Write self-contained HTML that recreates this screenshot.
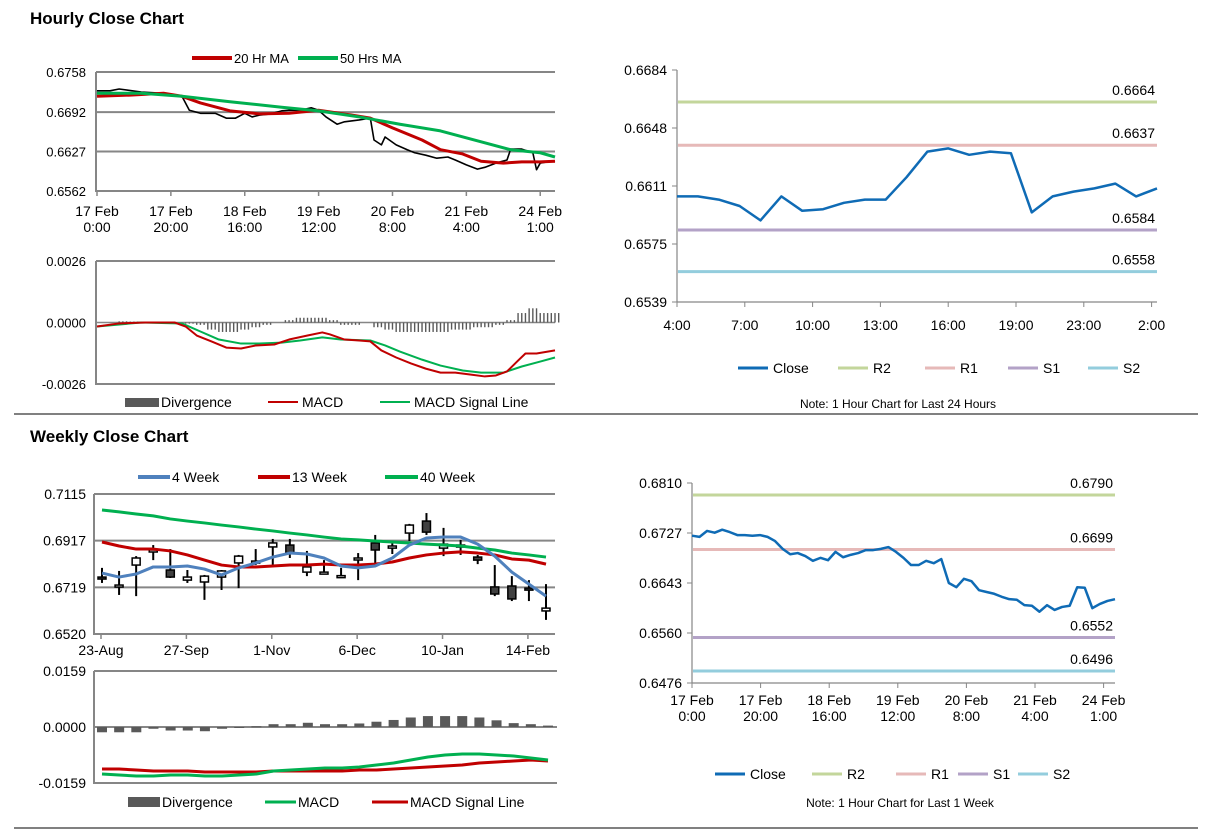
<!DOCTYPE html>
<html><head><meta charset="utf-8"><style>
html,body{margin:0;padding:0;background:#fff;width:1212px;height:834px;overflow:hidden}
svg text{font-family:"Liberation Sans",Arial,sans-serif;fill:#000}
</style></head><body>
<svg id="s" width="1212" height="834" viewBox="0 0 1212 834" xmlns="http://www.w3.org/2000/svg">
<text x="30" y="24" font-size="17" font-weight="bold">Hourly Close Chart</text>
<line x1="14" y1="414" x2="1198" y2="414" stroke="#808080" stroke-width="2"/>
<text x="30" y="442" font-size="17" font-weight="bold">Weekly Close Chart</text>
<line x1="14" y1="828" x2="1198" y2="828" stroke="#808080" stroke-width="2"/>
</svg>
<script>
// ---------- DATA ----------
// Hourly chart (hours since 17 Feb 0:00)
const hcHours=[0,3.5,6,12,18,23,25,28,32,35,37.5,40,42,44,47,50,52,55,58,60,62,65,67,71,74,75,77,78,81,84,86,89,92,95,97,100,103,105,108,111,112,115,118,119,120,123,124];
const hcClose=[0.6727,0.6727,0.6730,0.6725,0.6723,0.6718,0.6695,0.6690,0.6690,0.6682,0.6682,0.6690,0.6684,0.6687,0.6689,0.6694,0.6695,0.6695,0.6699,0.6695,0.6684,0.6672,0.6676,0.6679,0.6682,0.6646,0.6638,0.6651,0.6638,0.6630,0.6625,0.6621,0.6616,0.6618,0.6613,0.6605,0.6598,0.6601,0.6608,0.6613,0.6631,0.6631,0.6625,0.6597,0.6608,0.6611,0.6610];
const ma20Hours=[0,9,18,23,28,36,44,52,60,69,74,80,88,93,99,104,110,115,120,124];
const ma20=[0.6718,0.6720,0.6723,0.6718,0.6707,0.6694,0.6689,0.6690,0.6695,0.6687,0.6682,0.6666,0.6646,0.6630,0.6623,0.6611,0.6608,0.6610,0.6610,0.6611];
const ma50Hours=[0,12,23,36,50,60,71,82,93,104,112,120,124];
const ma50=[0.6723,0.6723,0.6718,0.6709,0.6700,0.6694,0.6684,0.6672,0.6661,0.6643,0.6630,0.6625,0.6618];
const hTicks=[0.6758,0.6692,0.6627,0.6562];
const hTickLabels=["0.6758","0.6692","0.6627","0.6562"];
const hXTicks=[0,20,40,60,80,100,120];
const hXLabels=[["17 Feb","0:00"],["17 Feb","20:00"],["18 Feb","16:00"],["19 Feb","12:00"],["20 Feb","8:00"],["21 Feb","4:00"],["24 Feb","1:00"]];
// hourly MACD
const macdHours=[0,6,13,21,24,27,31,35,39,43,48,52,57,61,63,67,71,74,77,81,85,89,93,97,101,105,108,111,114,116,119,122,124];
const macdH=[-0.00017,-0.00004,0,0,-0.00017,-0.00055,-0.0008,-0.00106,-0.0011,-0.00097,-0.00093,-0.00072,-0.00055,-0.00042,-0.0005,-0.00072,-0.00076,-0.0008,-0.00118,-0.00148,-0.00173,-0.00195,-0.00212,-0.00212,-0.0022,-0.00228,-0.00224,-0.00207,-0.00161,-0.00131,-0.00131,-0.00123,-0.00118];
const sigHours=[0,12,23,28,33,39,44,50,55,61,66,74,78,82,88,93,99,104,110,115,120,124];
const sigH=[-0.00017,0,-0.00004,-0.00038,-0.00072,-0.00089,-0.00089,-0.00085,-0.00076,-0.00063,-0.00072,-0.00076,-0.00097,-0.00123,-0.00157,-0.00182,-0.00203,-0.00212,-0.00212,-0.00186,-0.00165,-0.00148];
const divH=[0,0,0.00005,0.00004,0.00002,0,0,-0.00002,-0.00005,-0.0001,-0.0003,-0.0004,-0.0004,-0.0003,-0.0002,-0.0001,0,0.0001,0.0002,0.0002,0.0002,0.0001,-0.0001,-0.0001,0,-0.0002,-0.0003,-0.0004,-0.0004,-0.0004,-0.0004,-0.0004,-0.0003,-0.0003,-0.0002,-0.0002,-0.0001,0.0001,0.0004,0.0006,0.0004,0.0004];
// 24h chart
const dayLabels=["4:00","7:00","10:00","13:00","16:00","19:00","23:00","2:00"];
const dayClose=[0.6605,0.6605,0.6603,0.6599,0.6590,0.6605,0.6596,0.6597,0.6601,0.6603,0.6603,0.6617,0.6633,0.6635,0.6631,0.6633,0.6632,0.6595,0.6605,0.6608,0.6610,0.6613,0.6605,0.6610];
const dayLevels=[0.6664,0.6637,0.6584,0.6558];
const dayTicks=["0.6684","0.6648","0.6611","0.6575","0.6539"];
// weekly candles
const wkLabels=["23-Aug","27-Sep","1-Nov","6-Dec","10-Jan","14-Feb"];
const wOpen=[0.6762,0.6728,0.6813,0.6869,0.6792,0.6749,0.6741,0.6762,0.6822,0.6826,0.6890,0.6898,0.6783,0.6779,0.6766,0.6839,0.6907,0.6885,0.6949,0.7000,0.6885,0.6898,0.6847,0.6720,0.6724,0.6715,0.6618];
const wHigh=[0.6801,0.6788,0.6851,0.6898,0.6881,0.6792,0.6771,0.6792,0.6856,0.6881,0.6924,0.6924,0.6873,0.6834,0.6801,0.6864,0.6941,0.6911,0.6988,0.7034,0.6971,0.6920,0.6856,0.6813,0.6766,0.6749,0.6732];
const wLow=[0.6737,0.6686,0.6681,0.6834,0.6758,0.6737,0.6665,0.6707,0.6715,0.6813,0.6813,0.6843,0.6766,0.6775,0.6758,0.6749,0.6805,0.6860,0.6915,0.6941,0.6851,0.6856,0.6817,0.6681,0.6660,0.6660,0.6580];
const wClose=[0.6758,0.6728,0.6843,0.6877,0.6762,0.6762,0.6766,0.6788,0.6851,0.6830,0.6907,0.6864,0.6805,0.6783,0.6768,0.6843,0.6877,0.6894,0.6983,0.6953,0.6902,0.6898,0.6834,0.6690,0.6669,0.6711,0.6630];
const ma4=[0.6779,0.6762,0.6775,0.6805,0.6805,0.6809,0.6796,0.6771,0.6801,0.6822,0.6847,0.6864,0.6860,0.6843,0.6809,0.6801,0.6809,0.6843,0.6898,0.6928,0.6932,0.6932,0.6902,0.6851,0.6783,0.6732,0.6681];
const ma13=[0.6911,0.6894,0.6881,0.6881,0.6873,0.6856,0.6834,0.6813,0.6805,0.6805,0.6809,0.6813,0.6813,0.6817,0.6813,0.6813,0.6817,0.6826,0.6843,0.6856,0.6864,0.6869,0.6864,0.6856,0.6839,0.6834,0.6817];
const ma40=[0.7047,0.7039,0.7030,0.7022,0.7009,0.7000,0.6992,0.6983,0.6975,0.6966,0.6958,0.6949,0.6941,0.6932,0.6924,0.6920,0.6915,0.6911,0.6907,0.6902,0.6898,0.6894,0.6885,0.6877,0.6864,0.6856,0.6847];
const wTicks=["0.7115","0.6917","0.6719","0.6520"];
// weekly MACD
const wMacd=[-0.01335,-0.01363,-0.01392,-0.01392,-0.01363,-0.01363,-0.01392,-0.01392,-0.01363,-0.01335,-0.0125,-0.01221,-0.01193,-0.01164,-0.01164,-0.01136,-0.01079,-0.01022,-0.00937,-0.00852,-0.00795,-0.00767,-0.00767,-0.00795,-0.00824,-0.0088,-0.00937];
const wSig=[-0.01193,-0.01193,-0.01221,-0.0125,-0.0125,-0.0125,-0.01278,-0.01278,-0.01278,-0.01278,-0.0125,-0.0125,-0.0125,-0.0125,-0.0125,-0.01221,-0.01221,-0.01193,-0.01164,-0.01136,-0.01108,-0.01079,-0.01022,-0.00994,-0.00966,-0.00937,-0.00966];
const wDiv=[-0.0015,-0.0015,-0.0015,-0.0005,-0.001,-0.001,-0.0012,-0.0005,-0.0001,0.0002,0.0008,0.0008,0.0012,0.0008,0.0008,0.001,0.0015,0.002,0.0027,0.0031,0.0031,0.0031,0.0027,0.0019,0.0011,0.0008,0.0004];
// weekly hourly close chart
const wkClose=[0.6722,0.6720,0.6730,0.6727,0.6732,0.6728,0.6723,0.6723,0.6722,0.6723,0.6720,0.6713,0.6700,0.6691,0.6693,0.6688,0.6680,0.6685,0.6681,0.6695,0.6686,0.6690,0.6693,0.6698,0.6698,0.6700,0.6703,0.6695,0.6685,0.6673,0.6673,0.6680,0.6676,0.6683,0.6643,0.6636,0.6650,0.6646,0.6631,0.6628,0.6625,0.6620,0.6616,0.6615,0.6606,0.6605,0.6595,0.6606,0.6598,0.6603,0.6605,0.6636,0.6635,0.6601,0.6608,0.6613,0.6616];
const wkLevels=[0.6790,0.6699,0.6552,0.6496];
const wkTicks=["0.6810","0.6727","0.6643","0.6560","0.6476"];
const wkXLabels=[["17 Feb","0:00"],["17 Feb","20:00"],["18 Feb","16:00"],["19 Feb","12:00"],["20 Feb","8:00"],["21 Feb","4:00"],["24 Feb","1:00"]];
const levelNames=["R2","R1","S1","S2"];

// ---------- DRAWING ----------
const S=document.getElementById('s');const NS='http://www.w3.org/2000/svg';
function el(t,a,p){const e=document.createElementNS(NS,t);for(const k in a)e.setAttribute(k,a[k]);(p||S).appendChild(e);return e;}
function txt(x,y,s,a,size,anchor){const t=el('text',{x:x,y:y,'font-size':size||13,'text-anchor':anchor||'start'});t.textContent=s;return t;}
function lin(a,b,c,d){return v=>c+(v-a)*(d-c)/(b-a);}
function poly(xs,ys,color,w){return el('polyline',{points:xs.map((x,i)=>x+','+ys[i]).join(' '),fill:'none',stroke:color,'stroke-width':w,'stroke-linejoin':'round'});}
const GR='#868686';
const RED='#c00000',GRN='#00b050',BLUE='#4f81bd',CL='#0f6bb5';
const LVC=['#c3d69b','#e6b9b8','#b3a2c7','#93cddd'];

// Hourly price chart
{
const X=lin(0,124,97,555),Y=lin(0.6562,0.6758,191,72);
hTicks.forEach((v,i)=>{let g=el('line',{x1:96,x2:555,y1:Y(v),y2:Y(v),stroke:GR,'stroke-width':2});


let t=txt(86,Y(v)+5,hTickLabels[i],0,13,'end');

});
el('line',{x1:96,x2:96,y1:72,y2:192,stroke:GR,'stroke-width':2});
hXTicks.forEach((h,i)=>{el('line',{x1:X(h),x2:X(h),y1:191,y2:196,stroke:GR,'stroke-width':1.5});
let t=txt(X(h),216,hXLabels[i][0],0,14,'middle');
txt(X(h),232,hXLabels[i][1],0,14,'middle');});
let c=poly(hcHours.map(X),hcClose.map(Y),'#000',1.6);


let r=poly(ma20Hours.map(X),ma20.map(Y),RED,3);


let g=poly(ma50Hours.map(X),ma50.map(Y),GRN,3);


el('line',{x1:192,x2:232,y1:58,y2:58,stroke:RED,'stroke-width':4});txt(234,63,'20 Hr MA',0,13);
el('line',{x1:298,x2:338,y1:58,y2:58,stroke:GRN,'stroke-width':4});txt(340,63,'50 Hrs MA',0,13);
}
// Hourly MACD
{
const X=lin(0,124,97,555),Y=lin(-0.0026,0.0026,384,261);
[[0.0026,'0.0026'],[0,'0.0000'],[-0.0026,'-0.0026']].forEach(([v,l])=>{el('line',{x1:96,x2:555,y1:Y(v),y2:Y(v),stroke:GR,'stroke-width':v==0?1.5:2});txt(86,Y(v)+5,l,0,13,'end');});
el('line',{x1:96,x2:96,y1:261,y2:385,stroke:GR,'stroke-width':2});
divH.forEach((v,i)=>{for(let k=0;k<3;k++){const b=el('rect',{x:X(i*3+k)-0.7,y:Math.min(Y(v),Y(0)),width:1.4,height:Math.abs(Y(v)-Y(0)),fill:'#595959'});

}});
let s=poly(sigHours.map(X),sigH.map(Y),GRN,2);
let m=poly(macdHours.map(X),macdH.map(Y),RED,2);
el('rect',{x:125,y:398,width:34,height:9,fill:'#595959'});txt(161,407,'Divergence',0,14);
el('line',{x1:268,x2:298,y1:402,y2:402,stroke:RED,'stroke-width':2});txt(302,407,'MACD',0,14);
el('line',{x1:380,x2:410,y1:402,y2:402,stroke:GRN,'stroke-width':2});txt(414,407,'MACD Signal Line',0,14);
}
// Generic level chart
function levelChart(o){
const X=lin(0,o.n-1,o.x0,o.x1),Y=lin(o.lo,o.hi,o.yb,o.yt);
el('line',{x1:o.x0,x2:o.x0,y1:o.yt,y2:o.yb,stroke:GR,'stroke-width':1.2});
el('line',{x1:o.x0,x2:o.xr,y1:o.yb,y2:o.yb,stroke:GR,'stroke-width':1.2});
o.ticks.forEach((l,i)=>{const y=o.yt+i*(o.yb-o.yt)/(o.ticks.length-1);el('line',{x1:o.x0-5,x2:o.x0,y1:y,y2:y,stroke:GR});
let t=txt(o.x0-10,y+5,l,0,14,'end');});
o.levels.forEach((v,i)=>{let l=el('line',{x1:o.x0+1,x2:o.xr,y1:Y(v),y2:Y(v),stroke:LVC[i],'stroke-width':3});


txt(o.xr-2,Y(v)-7,v.toFixed(4),0,14,'end');});
o.xt.forEach((t,i)=>{const x=o.x0+i*o.xstep;el('line',{x1:x,x2:x,y1:o.yb,y2:o.yb+5,stroke:GR});
if(Array.isArray(t)){txt(x,o.yb+22,t[0],0,14,'middle');txt(x,o.yb+38,t[1],0,14,'middle');}else txt(x,o.yb+28,t,0,14,'middle');});
let c=poly(o.data.map((v,i)=>X(i)),o.data.map(Y),CL,2.5);


const ly=o.ly;const items=[['Close',CL]].concat(levelNames.map((n,i)=>[n,LVC[i]]));
items.forEach((it,i)=>{const x=o.lx[i];el('line',{x1:x,x2:x+30,y1:ly,y2:ly,stroke:it[1],'stroke-width':3});txt(x+35,ly+5,it[0],0,14);});
txt(o.noteX,o.noteY,o.note,0,12,'middle');
}
levelChart({n:dayClose.length,x0:677,x1:1157,xr:1157,yt:70,yb:302,lo:0.6539,hi:0.6684,ticks:dayTicks,levels:dayLevels,xt:dayLabels,xstep:67.8,data:dayClose,ly:368,lx:[738,838,925,1008,1088],note:'Note: 1 Hour Chart for Last 24 Hours',noteX:898,noteY:408});
levelChart({n:wkClose.length,x0:692,x1:1115,xr:1115,yt:483,yb:683,lo:0.6476,hi:0.6810,ticks:wkTicks,levels:wkLevels,xt:wkXLabels,xstep:68.6,data:wkClose,ly:774,lx:[715,812,896,958,1018],note:'Note: 1 Hour Chart for Last 1 Week',noteX:900,noteY:807});
// Weekly candles
{
const X=lin(0,26,102,546),Y=lin(0.6520,0.7115,634,494);
wTicks.forEach((l,i)=>{const y=494+i*140/3;el('line',{x1:94,x2:555,y1:y,y2:y,stroke:GR,'stroke-width':2});txt(86,y+5,l,0,14,'end');});
el('line',{x1:94,x2:94,y1:494,y2:635,stroke:GR,'stroke-width':2});
wkLabels.forEach((l,i)=>{const x=X(i*5)-1;el('line',{x1:x,x2:x,y1:634,y2:639,stroke:GR,'stroke-width':1.5});txt(x,655,l,0,14,'middle');});
wOpen.forEach((o,i)=>{const x=X(i),c=wClose[i];
el('line',{x1:x,x2:x,y1:Y(wHigh[i]),y2:Y(wLow[i]),stroke:'#000','stroke-width':2});
const top=Math.min(Y(o),Y(c)),h=Math.max(2,Math.abs(Y(o)-Y(c)));
const b=el('rect',{x:x-4,y:top,width:8,height:h,fill:c>=o?'#fff':'#404040',stroke:'#000','stroke-width':1.5});

});
let a=poly(ma40.map((v,i)=>X(i)),ma40.map(Y),GRN,3);
let b=poly(ma13.map((v,i)=>X(i)),ma13.map(Y),RED,3);
let c=poly(ma4.map((v,i)=>X(i)),ma4.map(Y),BLUE,3);
el('line',{x1:138,x2:170,y1:477,y2:477,stroke:BLUE,'stroke-width':4});txt(172,482,'4 Week',0,14);
el('line',{x1:258,x2:290,y1:477,y2:477,stroke:RED,'stroke-width':4});txt(292,482,'13 Week',0,14);
el('line',{x1:385,x2:418,y1:477,y2:477,stroke:GRN,'stroke-width':4});txt(420,482,'40 Week',0,14);
}
// Weekly MACD
{
const X=lin(0,26,102,548),Y=lin(-0.0159,0.0159,783,671);
[[0.0159,'0.0159'],[0,'0.0000'],[-0.0159,'-0.0159']].forEach(([v,l])=>{el('line',{x1:94,x2:557,y1:Y(v),y2:Y(v),stroke:GR,'stroke-width':2});txt(86,Y(v)+5,l,0,14,'end');});
el('line',{x1:94,x2:94,y1:671,y2:784,stroke:GR,'stroke-width':2});
wDiv.forEach((v,i)=>{const b=el('rect',{x:X(i)-5,y:Math.min(Y(v),Y(0)),width:10,height:Math.max(1,Math.abs(Y(v)-Y(0))),fill:'#595959'});

});
let s=poly(wSig.map((v,i)=>X(i)),wSig.map(Y),RED,3);
let m=poly(wMacd.map((v,i)=>X(i)),wMacd.map(Y),GRN,3);
el('rect',{x:128,y:797,width:32,height:10,fill:'#595959'});txt(162,807,'Divergence',0,14);
el('line',{x1:265,x2:296,y1:802,y2:802,stroke:GRN,'stroke-width':3});txt(298,807,'MACD',0,14);
el('line',{x1:372,x2:408,y1:802,y2:802,stroke:RED,'stroke-width':3});txt(410,807,'MACD Signal Line',0,14);
}
</script>
</body></html>
